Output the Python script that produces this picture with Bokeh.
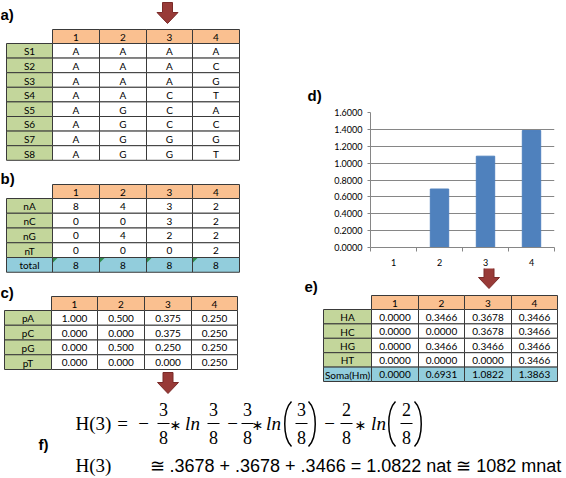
from bokeh.plotting import figure
from bokeh.layouts import row, column
from bokeh.models import Range1d, FixedTicker, NumeralTickFormatter
from bokeh.core.properties import value
from bokeh.embed import file_html
from bokeh.resources import INLINE

# ---------------- data ----------------
site_headers = ["1", "2", "3", "4"]

seq_labels = ["S1", "S2", "S3", "S4", "S5", "S6", "S7", "S8"]
site1 = ["A", "A", "A", "A", "A", "A", "A", "A"]
site2 = ["A", "A", "A", "A", "G", "G", "G", "G"]
site3 = ["A", "A", "A", "C", "C", "C", "G", "G"]
site4 = ["A", "C", "G", "T", "A", "C", "G", "T"]

count_labels = ["nA", "nC", "nG", "nT", "total"]
nA = [8, 4, 3, 2]
nC = [0, 0, 3, 2]
nG = [0, 4, 2, 2]
nT = [0, 0, 0, 2]
total = [8, 8, 8, 8]

freq_labels = ["pA", "pC", "pG", "pT"]
pA = [1.000, 0.500, 0.375, 0.250]
pC = [0.000, 0.000, 0.375, 0.250]
pG = [0.000, 0.500, 0.250, 0.250]
pT = [0.000, 0.000, 0.000, 0.250]

ent_labels = ["HA", "HC", "HG", "HT", "Soma(Hm)"]
HA = [0.0000, 0.3466, 0.3678, 0.3466]
HC = [0.0000, 0.0000, 0.3678, 0.3466]
HG = [0.0000, 0.3466, 0.3466, 0.3466]
HT = [0.0000, 0.0000, 0.0000, 0.3466]
soma = [0.0000, 0.6931, 1.0822, 1.3863]

bar_positions = [1, 2, 3, 4]
y_ticks = [0.0, 0.2, 0.4, 0.6, 0.8, 1.0, 1.2, 1.4, 1.6]

# ---------------- styles ----------------
ORANGE = "#FAC090"
GREEN = "#C3D69B"
BLUE = "#92CDDC"
LINE = "#3a3a3a"
ARROW_FILL = "#983a37"
ARROW_LINE = "#7a2a28"
TFONT = value("Lato")
TSIZE = value("10px")
LBL_FONT = value("Liberation Sans")
LBL_SIZE = value("15px")


def canvas(w, h, x0, x1, y0, y1):
    p = figure(width=w, height=h, x_range=Range1d(x0, x1), y_range=Range1d(y1, y0),
               toolbar_location=None, output_backend="svg", min_border=0,
               x_axis_location=None, y_axis_location=None, frame_align=False)
    p.outline_line_color = None
    p.xgrid.visible = False
    p.ygrid.visible = False
    p.background_fill_color = "white"
    p.border_fill_color = "white"
    return p


def panel_label(p, x, y, txt):
    p.text(x=[x], y=[y], text=[txt], text_align="left", text_baseline="middle",
           text_font=LBL_FONT, text_font_size=LBL_SIZE, text_font_style="bold",
           text_color="black")


def arrow(p, cx, top, h=21, head_w=21, shaft_w=10, head_h=11):
    xs = [cx - shaft_w / 2, cx + shaft_w / 2, cx + shaft_w / 2, cx + head_w / 2, cx,
          cx - head_w / 2, cx - shaft_w / 2]
    ys = [top, top, top + h - head_h, top + h - head_h, top + h, top + h - head_h,
          top + h - head_h]
    p.patch(xs, ys, fill_color=ARROW_FILL, line_color=ARROW_LINE, line_width=1)


def draw_table(p, label_left, col_x, top, head_h, row_h, labels, rows, fmt,
               last_blue=False, marks=False):
    n = len(col_x) - 1
    lefts = col_x[:-1]
    rights = col_x[1:]
    centers = [(a + b) / 2 for a, b in zip(lefts, rights)]
    p.quad(left=lefts, right=rights, top=[top] * n, bottom=[top + head_h] * n,
           fill_color=ORANGE, line_color=LINE, line_width=1)
    p.text(x=centers, y=[top + head_h / 2 + 0.5] * n, text=site_headers,
           text_align="center", text_baseline="middle", text_font=TFONT,
           text_font_size=TSIZE, text_color="black")
    ql, qr, qt, qb, qf = [], [], [], [], []
    tx, ty, tt = [], [], []
    mx, my = [], []
    nrows = len(rows)
    for i, (lab, vals) in enumerate(zip(labels, rows)):
        y0 = top + head_h + i * row_h
        y1 = y0 + row_h
        blue = last_blue and i == nrows - 1
        ql.append(label_left); qr.append(col_x[0]); qt.append(y0); qb.append(y1)
        qf.append(BLUE if blue else GREEN)
        tx.append((label_left + col_x[0]) / 2); ty.append((y0 + y1) / 2 + 0.5); tt.append(lab)
        for j in range(n):
            ql.append(lefts[j]); qr.append(rights[j]); qt.append(y0); qb.append(y1)
            qf.append(BLUE if blue else "white")
            tx.append(centers[j]); ty.append((y0 + y1) / 2 + 0.5); tt.append(fmt(vals[j]))
            if blue and marks:
                mx.append([lefts[j] + 0.5, lefts[j] + 5, lefts[j] + 0.5])
                my.append([y0 + 0.5, y0 + 0.5, y0 + 5])
    p.quad(left=ql, right=qr, top=qt, bottom=qb, fill_color=qf, line_color=LINE,
           line_width=1)
    if mx:
        p.patches(mx, my, fill_color="#2f8f4f", line_color=None)
    p.text(x=tx, y=ty, text=tt, text_align="center", text_baseline="middle",
           text_font=TFONT, text_font_size=TSIZE, text_color="black")
    return centers


# ---------------- left panel: tables a, b, c ----------------
L = canvas(296, 396, 0, 296, 0, 396)
panel_label(L, 0, 14, "a)")
cols_ab = [52, 99, 146, 192, 239]
seq_rows = [list(r) for r in zip(site1, site2, site3, site4)]
centers_a = draw_table(L, 6, cols_ab, 29, 14, 14.6, seq_labels, seq_rows, str)
arrow(L, centers_a[2] - 2, 2)

panel_label(L, 0, 178, "b)")
draw_table(L, 6, cols_ab, 184, 14, 14.75, count_labels, [nA, nC, nG, nT, total],
           lambda v: str(v), last_blue=True, marks=True)

panel_label(L, 0, 292, "c)")
cols_c = [51, 97, 144, 191, 237]
centers_c = draw_table(L, 4, cols_c, 296, 14, 14.75, freq_labels, [pA, pC, pG, pT],
                       lambda v: f"{v:.3f}")
arrow(L, centers_c[2], 372)

# ---------------- right panel: label d ----------------
R0 = canvas(270, 104, 296, 566, 0, 104)
panel_label(R0, 307, 95, "d)")

# ---------------- bar chart d ----------------
D = figure(width=270, height=164, x_range=Range1d(0.5, 4.5), y_range=Range1d(0, 1.6),
           toolbar_location=None, output_backend="svg", frame_align=False,
           min_border_left=74, min_border_right=12, min_border_top=8, min_border_bottom=20)
D.outline_line_color = None
D.background_fill_color = "white"
D.border_fill_color = "white"
D.vbar(x=bar_positions, top=soma, width=0.4, fill_color="#4F81BD", line_color="#4F81BD")
D.xgrid.visible = False
D.ygrid.grid_line_color = "#868686"
D.yaxis.ticker = FixedTicker(ticks=y_ticks)
D.yaxis.formatter = NumeralTickFormatter(format="0.0000")
D.yaxis.major_tick_out = 3
D.yaxis.major_tick_in = 0
D.yaxis.minor_tick_out = 0
D.yaxis.minor_tick_in = 0
D.yaxis.axis_line_color = "#868686"
D.yaxis.major_tick_line_color = "#868686"
D.yaxis.major_label_standoff = 5
D.yaxis.major_label_text_font = "Lato"
D.yaxis.major_label_text_font_size = "9px"
D.yaxis.major_label_text_color = "black"
bounds = [b - 0.5 for b in bar_positions] + [bar_positions[-1] + 0.5]
D.xaxis.ticker = FixedTicker(ticks=bar_positions, minor_ticks=bounds)
D.xaxis.major_label_overrides = {b: s for b, s in zip(bar_positions, site_headers)}
D.xaxis.major_tick_out = 0
D.xaxis.major_tick_in = 0
D.xaxis.minor_tick_out = 4
D.xaxis.minor_tick_in = 0
D.xaxis.minor_tick_line_color = "#868686"
D.xaxis.axis_line_color = "#868686"
D.xaxis.major_label_standoff = 7
D.xaxis.major_label_text_font = "Lato"
D.xaxis.major_label_text_font_size = "9px"
D.xaxis.major_label_text_color = "black"

# ---------------- table e ----------------
E = canvas(270, 128, 296, 566, 268, 396)
panel_label(E, 304, 286, "e)")
cols_e = [371, 418, 464, 511, 557]
centers_e = draw_table(E, 323, cols_e, 295, 14, 14.4, ent_labels, [HA, HC, HG, HT, soma],
                       lambda v: f"{v:.4f}", last_blue=True)
arrow(E, centers_e[2] + 1, 267)

# ---------------- formula f ----------------
B = canvas(566, 82, 0, 566, 396, 478)
panel_label(B, 38, 444, "f)")
SERIF = value("Liberation Serif")
mid = 423


def t(p, x, y, s, size, font=SERIF, style="normal", align="center"):
    p.text(x=[x], y=[y], text=[s], text_align=align, text_baseline="middle",
           text_font=font, text_font_size=value(size), text_font_style=style,
           text_color="black")


t(B, 75, mid, "H(3)", "19px", align="left")
t(B, 122, mid, "=", "19px")
for xm in [143, 232, 329]:
    t(B, xm, mid, "−", "19px")
frac_x = [163, 213, 247, 301, 346, 406]
frac_num = [nA[2], nA[2], nC[2], nC[2], nG[2], nG[2]]
frac_den = [total[2]] * 6
B.text(x=frac_x, y=[409] * 6, text=[str(v) for v in frac_num], text_align="center",
       text_baseline="middle", text_font=SERIF, text_font_size=value("18px"),
       text_color="black")
B.text(x=frac_x, y=[437] * 6, text=[str(v) for v in frac_den], text_align="center",
       text_baseline="middle", text_font=SERIF, text_font_size=value("18px"),
       text_color="black")
B.segment(x0=[c - 6 for c in frac_x], x1=[c + 6 for c in frac_x], y0=[mid] * 6,
          y1=[mid] * 6, line_color="black", line_width=1)
for xs in [175, 257, 360]:
    t(B, xs, mid + 1, "∗", "14px", font=value("DejaVu Sans"))
for xl in [192, 273, 378]:
    t(B, xl, mid, "ln", "19px", style="italic")
# stretchy parentheses around the bracketed fractions
paren_l = [288, 392]
paren_r = [311, 417]
B.bezier(x0=[x + 3 for x in paren_l], y0=[401] * 2, x1=[x + 3 for x in paren_l], y1=[446] * 2,
         cx0=[x - 6 for x in paren_l], cy0=[410] * 2, cx1=[x - 6 for x in paren_l],
         cy1=[437] * 2, line_color="black", line_width=1.5)
B.bezier(x0=[x - 3 for x in paren_r], y0=[401] * 2, x1=[x - 3 for x in paren_r], y1=[446] * 2,
         cx0=[x + 6 for x in paren_r], cy0=[410] * 2, cx1=[x + 6 for x in paren_r],
         cy1=[437] * 2, line_color="black", line_width=1.5)

line2 = ("≅ " + " + ".join(f"{v:.4f}"[1:] for v in [HA[2], HC[2], HG[2]])
         + f" = {soma[2]:.4f} nat ≅ {round(soma[2] * 1000)} mnat")
t(B, 75, 465, "H(3)", "19px", align="left")
t(B, 149, 465, line2, "18px", font=value("Liberation Sans"), align="left")

layout = column(row(L, column(R0, D, E)), B)
open("out.html", "w").write(file_html(layout, INLINE))
